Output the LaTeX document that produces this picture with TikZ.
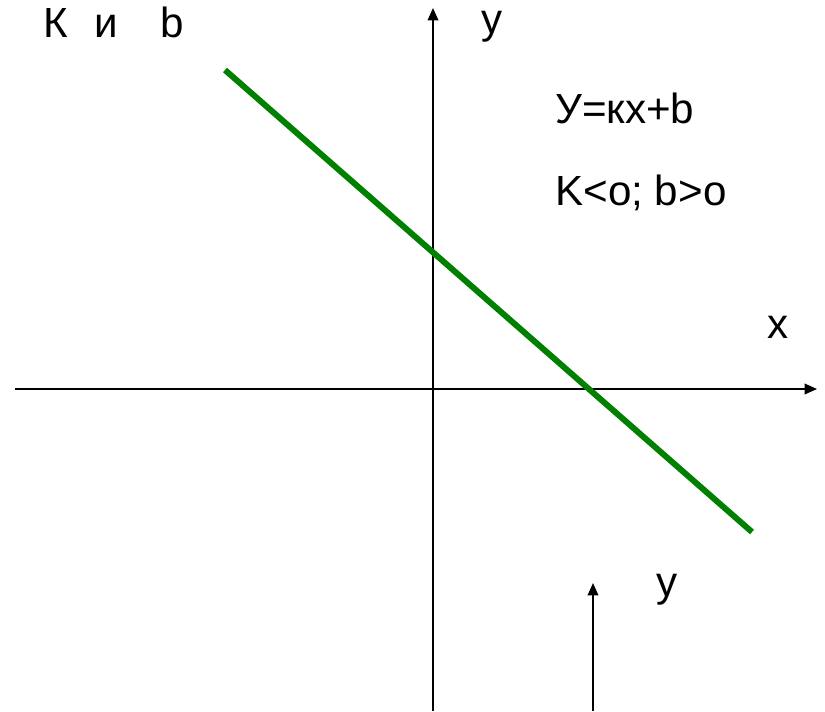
\documentclass[tikz,border=0pt]{standalone}
\usepackage{fontspec}
\setmainfont{Liberation Sans}
\usetikzlibrary{arrows.meta}

\begin{document}
\begin{tikzpicture}[
  x=0.02cm, y=-0.02cm,
  axis/.style={line width=1pt, -{Triangle[length=7pt, width=6pt]}},
  graphline/.style={line width=3.4pt, draw=green!50!black},
  lbl/.style={anchor=base west, inner sep=0pt, font=\fontsize{24}{28}\selectfont},
]
\useasboundingbox (0,0) rectangle (825,711);
% axes
\coordinate (xstart) at (15,389);
\coordinate (xend)   at (817,389);
\coordinate (ystart) at (433,711);
\coordinate (yend)   at (433,8);
\coordinate (vstart) at (593,711);
\coordinate (vend)   at (593,583);
\coordinate (lineA)  at (225,70);
\coordinate (lineB)  at (752,532);
\draw[axis] (xstart) -- (xend);
\draw[axis] (ystart) -- (yend);
\draw[axis] (vstart) -- (vend);
\draw[graphline] (lineA) -- (lineB);
% labels
\node[lbl] (title)   at (43,37)   {К\hspace{15pt}и\hspace{24pt}b};
\node[lbl] (ytop)    at (481,33)  {y};
\node[lbl] (formula) at (555,123) {У=кх+b};
\node[lbl] (cond)    at (555,205) {K<o; b>o};
\node[lbl] (xlbl)    at (767,338) {x};
\node[lbl] (ylow)    at (656,596) {y};
\end{tikzpicture}
\end{document}
